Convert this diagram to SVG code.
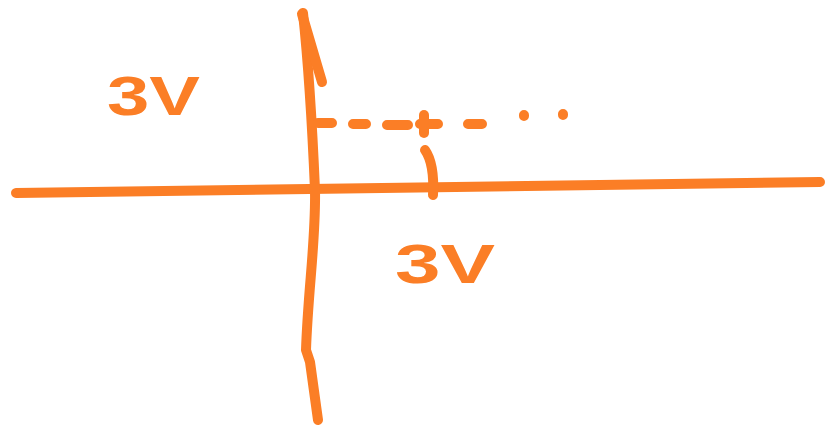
<svg xmlns="http://www.w3.org/2000/svg" width="826" height="431" viewBox="0 0 826 431">
<style>
.s{fill:none;stroke:#FB7E26;stroke-width:10;stroke-linecap:round;stroke-linejoin:round}
.t{fill:#FB7E26;font-family:"Liberation Sans",sans-serif;font-weight:bold;font-size:56px}
</style>
<rect width="826" height="431" fill="#fff"/>
<g id="connectors">
<path class="s" d="M16,193 C200,190 500,184 820,182"/>
<path class="s" d="M303,13 C308,60 312,120 315,190 C316,240 308,290 306,350 L310,362 L318,420"/>
<path class="s" d="M302,14 L322,82"/>
<path class="s" d="M318,123 H332 M353,124 H366 M387,125 H408 M420,124 H438 M468,124 H482"/>
<path class="s" d="M424,115 V133"/>
<path class="s" d="M524,115 L524,116 M563,114 L563,115"/>
<path class="s" d="M425,150 C432,160 434,176 433,195"/>
</g>
<g id="label-top"><text class="t" x="107" y="115" textLength="93" lengthAdjust="spacingAndGlyphs">3V</text></g>
<g id="label-bottom"><text class="t" x="395" y="283" textLength="100" lengthAdjust="spacingAndGlyphs">3V</text></g>
</svg>
